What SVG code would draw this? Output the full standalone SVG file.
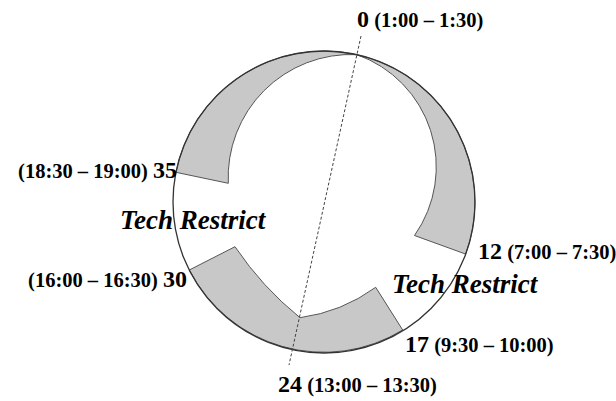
<svg xmlns="http://www.w3.org/2000/svg" width="616" height="401" viewBox="0 0 616 401">
<style>
  text { font-family: "Liberation Serif", "Times New Roman", serif; font-weight: bold; fill: #000; }
  .num { font-size: 24px; }
  .rng { font-size: 20.5px; }
  .tr { font-size: 27px; font-style: italic; }
  .band { fill: #c8c8c8; stroke: #555; stroke-width: 1; stroke-linejoin: round; }
  .ring { fill: none; stroke: #333; stroke-width: 1.3; }
  .axis { fill: none; stroke: #444; stroke-width: 1; stroke-dasharray: 3 2; }
</style>
<rect width="616" height="401" fill="#fff"/>
<g id="band-35-0">
  <path class="band" d="M 356.7 54.6 A 151 151 0 0 0 175.9 172.3 L 228.3 183.3 A 123 123 0 0 1 356.7 54.6 Z"/>
</g>
<g id="band-0-12">
  <path class="band" d="M 356.7 54.6 A 151 151 0 0 1 465.7 254.1 L 414.5 235.5 A 119 119 0 0 0 356.7 54.6 Z"/>
</g>
<g id="band-17-30">
  <path class="band" d="M 189.3 270 A 151 151 0 0 0 402.7 330 L 375.7 287.3 Q 341.7 312 300 317.7 Q 262.3 287.2 235 246.7 Z"/>
</g>
<g id="ring">
  <circle class="ring" cx="324" cy="202" r="151"/>
</g>
<g id="connectors">
  <line class="axis" x1="361" y1="36" x2="289" y2="365"/>
</g>
<g id="label-0">
  <text x="357" y="27.3"><tspan class="num">0</tspan><tspan class="rng"> (1:00 – 1:30)</tspan></text>
</g>
<g id="label-35">
  <text x="177" y="177.5" text-anchor="end"><tspan class="rng">(18:30 – 19:00) </tspan><tspan class="num">35</tspan></text>
</g>
<g id="label-30">
  <text x="187" y="286.7" text-anchor="end"><tspan class="rng">(16:00 – 16:30) </tspan><tspan class="num">30</tspan></text>
</g>
<g id="label-12">
  <text x="478" y="259.3"><tspan class="num">12</tspan><tspan class="rng"> (7:00 – 7:30)</tspan></text>
</g>
<g id="label-17">
  <text x="405" y="351.7"><tspan class="num">17</tspan><tspan class="rng"> (9:30 – 10:00)</tspan></text>
</g>
<g id="label-24">
  <text x="278" y="391.7"><tspan class="num">24</tspan><tspan class="rng"> (13:00 – 13:30)</tspan></text>
</g>
<g id="tech-restrict-left">
  <text class="tr" x="120" y="229">Tech Restrict</text>
</g>
<g id="tech-restrict-right">
  <text class="tr" x="392" y="293">Tech Restrict</text>
</g>
</svg>
